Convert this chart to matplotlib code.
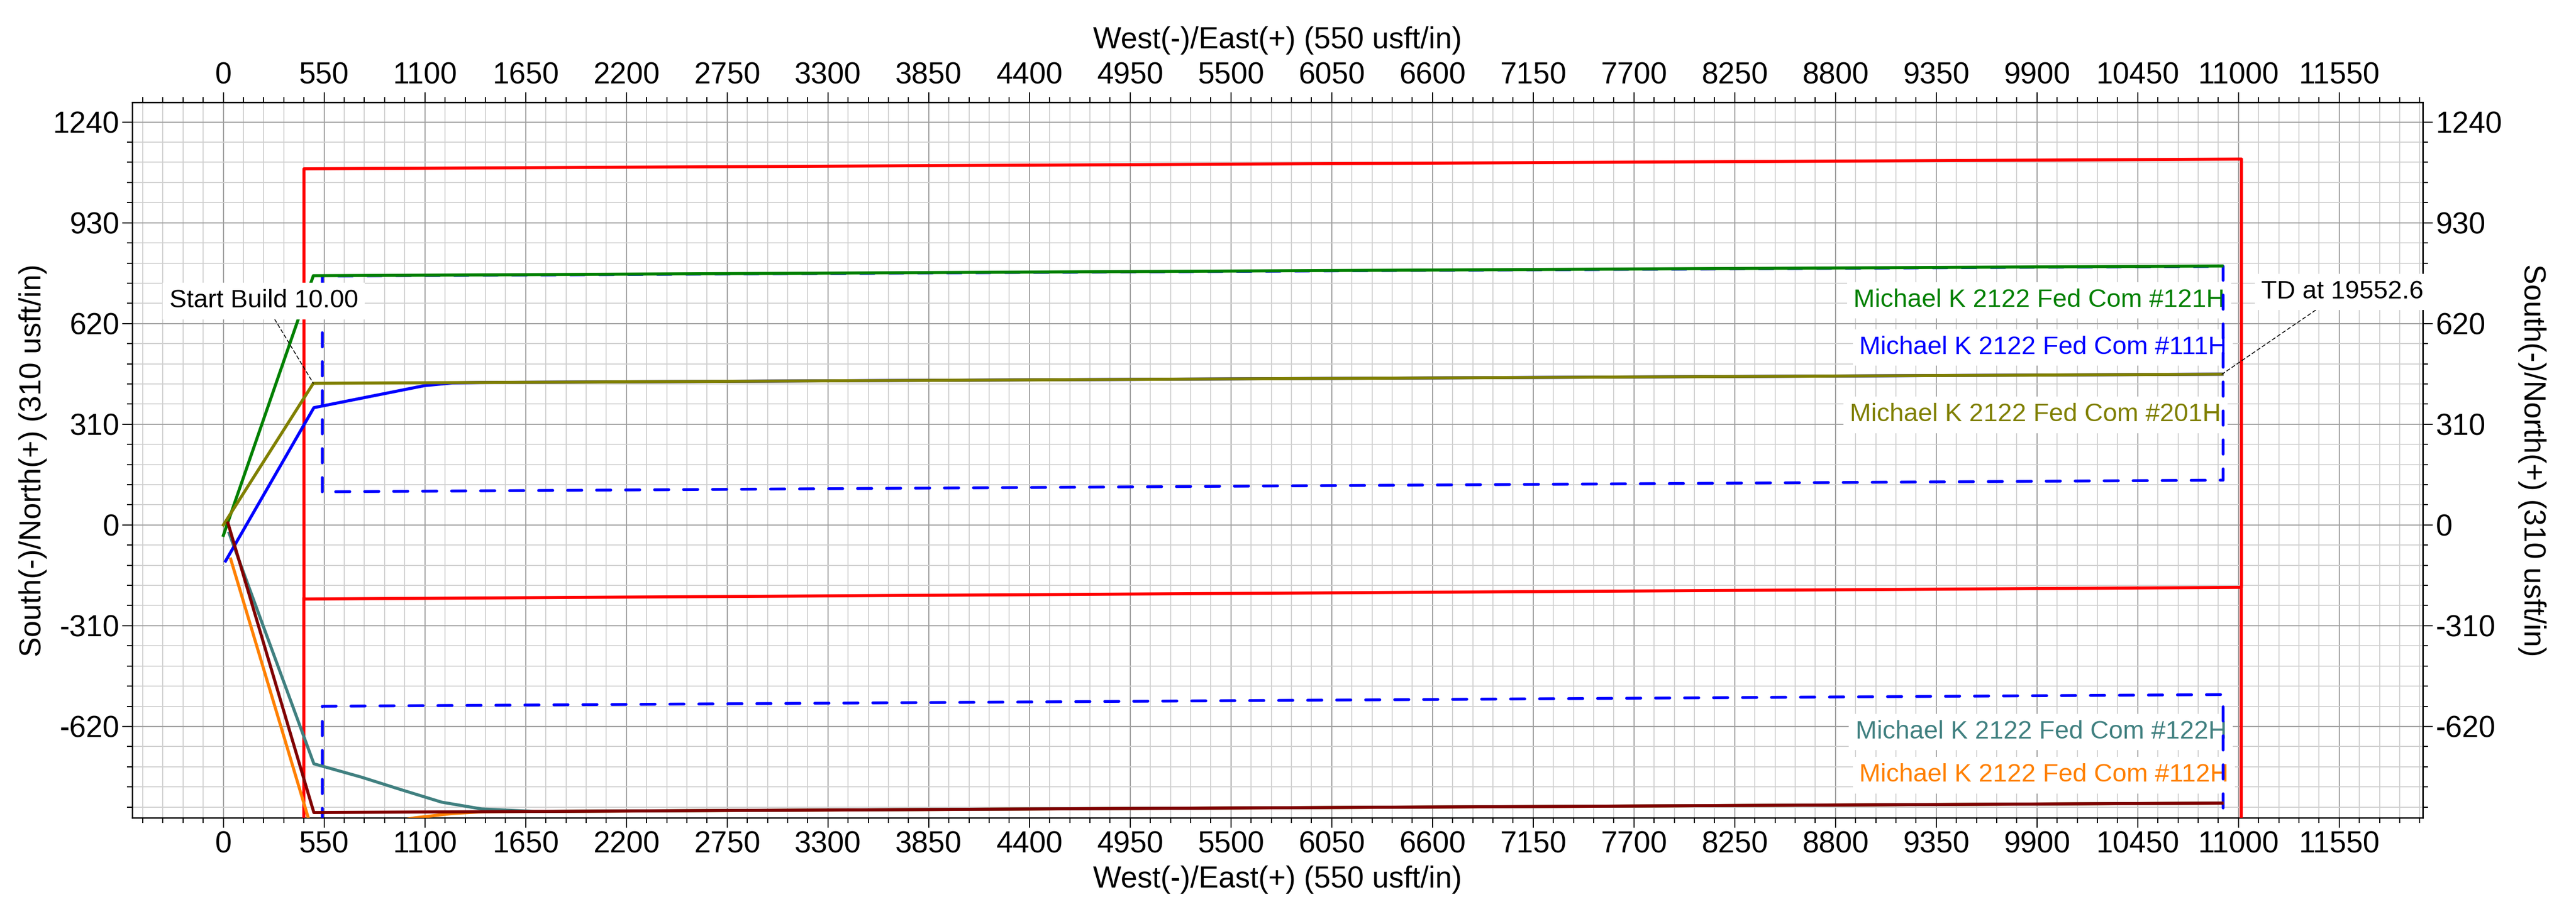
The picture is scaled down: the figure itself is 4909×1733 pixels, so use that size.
import matplotlib
matplotlib.use('Agg')
import matplotlib.pyplot as plt
from matplotlib.ticker import MultipleLocator

plt.rcParams['font.family'] = ['Liberation Sans', 'DejaVu Sans']
plt.rcParams['axes.unicode_minus'] = False

# lease lines (red) and hard-line setbacks (blue dashed), usft
lease_upper_e = [440, 440, 11016, 11016, 440]
lease_upper_n = [-228, 1096, 1126, -192, -228]
lease_lower_e = [440, 440, 11016, 11016]
lease_lower_n = [-228, -1548, -1512, -192]
setback_upper_e = [540, 540, 10916, 10916, 540]
setback_upper_n = [102, 766, 796, 138, 102]
setback_lower_e = [540, 540, 10916, 10916, 540]
setback_lower_n = [-1218, -558, -522, -1182, -1218]

# well paths, East / North
w112h_e = [40, 494, 800, 1048, 1250, 1420, 10910]
w112h_n = [-105, -959, -925, -901, -888, -882.5, -856]
w122h_e = [31, 494, 753, 972, 1191, 1410, 1700, 10910]
w122h_n = [-25, -735, -776, -815, -853, -874, -881.6, -856]
w111h_e = [12, 494, 1100, 1250, 1400, 10910]
w111h_n = [-111, 361, 429, 437, 438.5, 464]
w121h_e = [0, 491, 10910]
w121h_n = [-32, 767, 797]
w201h_e = [0, 491, 10910]
w201h_n = [0, 436, 464]
w202h_e = [25, 494, 10910]
w202h_n = [6, -885, -856]

label_text = ['Michael K 2122 Fed Com #121H', 'Michael K 2122 Fed Com #111H',
              'Michael K 2122 Fed Com #201H', 'Michael K 2122 Fed Com #122H',
              'Michael K 2122 Fed Com #112H']
label_e = [10925, 10935, 10905, 10935, 10945]
label_n = [691, 546, 339, -637, -770]
label_colors = ['#008000', '#0000ff', '#808000', '#408080', '#ff8000']

fig = plt.figure(figsize=(4909 / 300, 1733 / 300), dpi=300)
ax = fig.add_axes([0.0513, 0.1004, 0.8893, 0.7868])

ax.plot(lease_upper_e, lease_upper_n, color='#ff0000', lw=1.4, zorder=3)
ax.plot(lease_lower_e, lease_lower_n, color='#ff0000', lw=1.4, zorder=3)
for e, n in [(setback_upper_e, setback_upper_n), (setback_lower_e, setback_lower_n)]:
    ax.plot(e, n, color='#0000ff', lw=1.3, ls=(0, (5.0, 5.2)), dash_capstyle='round', zorder=5)

for e, n, c in [(w112h_e, w112h_n, '#ff8000'), (w122h_e, w122h_n, '#408080'),
                (w111h_e, w111h_n, '#0000ff'), (w121h_e, w121h_n, '#008000'),
                (w201h_e, w201h_n, '#808000'), (w202h_e, w202h_n, '#800000')]:
    ax.plot(e, n, color=c, lw=1.4, zorder=6)

for t, e, n, c in zip(label_text, label_e, label_n, label_colors):
    ax.text(e, n, t, color=c, fontsize=11.7, ha='right', va='center', zorder=4,
            bbox=dict(boxstyle='square,pad=0.25', fc='white', ec='none'))

leader = dict(arrowstyle='-', ls=(0, (4, 3)), lw=0.4, color='black', shrinkA=0, shrinkB=0)
ax.annotate('Start Build 10.00', xy=(491, 436), xytext=(220, 689), fontsize=11.7,
            ha='center', va='center', zorder=7, arrowprops=leader,
            bbox=dict(boxstyle='square,pad=0.25', fc='white', ec='none'))
ax.annotate('TD at 19552.6', xy=(10910, 464), xytext=(11123, 717), fontsize=11.7,
            ha='left', va='center', zorder=7, arrowprops=leader,
            bbox=dict(boxstyle='square,pad=0.25', fc='white', ec='none'))

ax.set_xlim(-498, 12007)
ax.set_ylim(-901, 1300)
ax.set_axisbelow(True)
ax.grid(which='major', color='#a0a0a0', lw=0.5)
ax.grid(which='minor', color='#d0d0d0', lw=0.45)

secx = ax.secondary_xaxis('top')
secy = ax.secondary_yaxis('right')
for a in (secx.xaxis, ax.xaxis):
    a.set_major_locator(MultipleLocator(550))
    a.set_minor_locator(MultipleLocator(110))
for a in (secy.yaxis, ax.yaxis):
    a.set_major_locator(MultipleLocator(310))
    a.set_minor_locator(MultipleLocator(62))

for a in (ax, secx, secy):
    a.tick_params(which='major', length=4.6, width=0.5, pad=1.2, labelsize=13.7)
    a.tick_params(which='minor', length=2.4, width=0.5)
    for s in a.spines.values():
        s.set_linewidth(0.6)

xlab = 'West(-)/East(+) (550 usft/in)'
ylab = 'South(-)/North(+) (310 usft/in)'
ax.set_xlabel(xlab, fontsize=13.7, labelpad=3)
secx.set_xlabel(xlab, fontsize=13.7, labelpad=6)
ax.set_ylabel(ylab, fontsize=13.7, labelpad=2.5)
secy.set_ylabel(ylab, fontsize=13.7, rotation=270, labelpad=20)

fig.savefig('out.png', dpi=300)
